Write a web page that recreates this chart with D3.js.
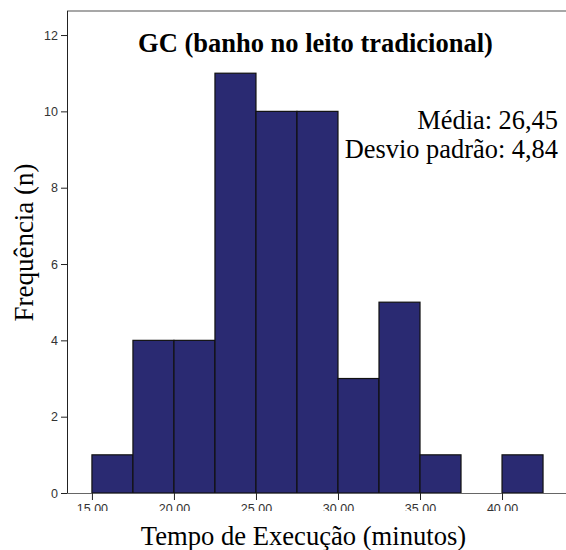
<!DOCTYPE html>
<html>
<head>
<meta charset="utf-8">
<script src="https://cdn.jsdelivr.net/npm/d3@7"></script>
<style>
  body { margin: 0; background: #fff; }
  svg { display: block; }
  .axis text { font-family: "Liberation Sans", Arial, sans-serif; font-size: 12.5px; fill: #333; }
  .serif { font-family: "Liberation Serif", "Times New Roman", serif; fill: #000; }
</style>
</head>
<body>
<div id="chart"></div>
<script>
'use strict';

// histogram data
const binStarts = [15, 17.5, 20, 22.5, 25, 27.5, 30, 32.5, 35, 37.5, 40];
const counts = [1, 4, 4, 11, 10, 10, 3, 5, 1, 0, 1];
const binWidth = 2.5;
const xTicks = [15, 20, 25, 30, 35, 40];
const yTicks = [0, 2, 4, 6, 8, 10, 12];
const statLines = ['Média: 26,45', 'Desvio padrão: 4,84'];

const width = 566, height = 550;
const plot = { left: 67, top: 11, right: 566, bottom: 493 };

const svg = d3.select('#chart').append('svg')
  .attr('width', width).attr('height', height);

const x = d3.scaleLinear().domain([13.48, 43.9]).range([plot.left, plot.right]);
const y = d3.scaleLinear().domain([0, 12.63]).range([plot.bottom, plot.top]);

// top frame line
svg.append('line')
  .attr('x1', plot.left).attr('x2', plot.right)
  .attr('y1', plot.top).attr('y2', plot.top)
  .style('stroke', '#8a8a8a').style('stroke-width', 1.5);

// bars
svg.append('g').selectAll('rect')
  .data(binStarts.map((s, i) => ({ start: s, count: counts[i] })).filter(d => d.count > 0))
  .enter().append('rect')
  .attr('x', d => x(d.start))
  .attr('y', d => y(d.count))
  .attr('width', d => x(d.start + binWidth) - x(d.start))
  .attr('height', d => y(0) - y(d.count))
  .style('fill', '#2a2a72')
  .style('stroke', '#111').style('stroke-width', 1.2);

// clip for the cut-off x tick labels
svg.append('clipPath').attr('id', 'xclip')
  .append('rect').attr('x', 0).attr('y', 0).attr('width', width).attr('height', 511);

let xAxis = d3.axisBottom(x).tickValues(xTicks).tickSize(7).tickPadding(4)
  .tickFormat(d => d.toFixed(2));
let gx = svg.append('g').attr('clip-path', 'url(#xclip)')
  .append('g').classed('axis', true)
  .attr('transform', `translate(0,${plot.bottom})`)
  .call(xAxis);
gx.select('.domain').attr('d', `M${plot.left},0.5H${plot.right}`).style('stroke', '#666');
gx.selectAll('.tick line').style('stroke', '#222');

let yAxis = d3.axisLeft(y).tickValues(yTicks).tickSize(6).tickPadding(3);
let gy = svg.append('g').classed('axis', true)
  .attr('transform', `translate(${plot.left},0)`)
  .call(yAxis);
gy.select('.domain').attr('d', `M0.5,${plot.bottom}V${plot.top}`).style('stroke', '#222');
gy.selectAll('.tick line').style('stroke', '#222');

// title
svg.append('text').classed('serif', true)
  .attr('x', 315.5).attr('y', 52)
  .attr('text-anchor', 'middle')
  .style('font-size', '26.5px').style('font-weight', 'bold')
  .text('GC (banho no leito tradicional)');

// stats
svg.append('g').selectAll('text').data(statLines).enter().append('text')
  .classed('serif', true)
  .attr('x', 558).attr('y', (d, i) => 129 + i * 29)
  .attr('text-anchor', 'end')
  .style('font-size', '26.4px')
  .text(d => d);

// axis titles
svg.append('text').classed('serif', true)
  .attr('transform', 'translate(33,242.5) rotate(-90)')
  .attr('text-anchor', 'middle')
  .style('font-size', '27px')
  .text('Frequência (n)');

svg.append('text').classed('serif', true)
  .attr('x', 303.5).attr('y', 545)
  .attr('text-anchor', 'middle')
  .style('font-size', '26.6px')
  .text('Tempo de Execução (minutos)');
</script>
</body>
</html>
